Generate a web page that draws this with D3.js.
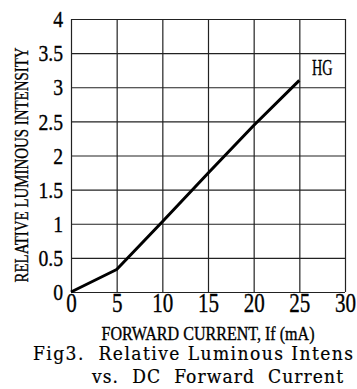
<!DOCTYPE html>
<html>
<head>
<meta charset="utf-8">
<script src="https://cdn.jsdelivr.net/npm/d3@7"></script>
<style>
  body { margin: 0; background: #fff; }
  svg { display: block; }
  text { fill: #000; stroke: #000; stroke-width: 0.35px; }
  .serif { font-family: "DejaVu Serif Condensed", "DejaVu Serif", serif; stroke-width: 0.2px; }
  .num { font-family: "Liberation Serif", serif; }
</style>
</head>
<body>
<svg id="chart" width="357" height="389"></svg>
<script>
// data
const current = [0, 5, 10, 15, 20, 25];
const intensity = [0, 0.33, 1.03, 1.74, 2.44, 3.1];
const xTicks = [0, 5, 10, 15, 20, 25, 30];
const yTicks = [0, 0.5, 1, 1.5, 2, 2.5, 3, 3.5, 4];
const seriesName = "HG";

const svg = d3.select("#chart");

const x = d3.scaleLinear().domain([0, 30]).range([71, 345]);
const y = d3.scaleLinear().domain([0, 4]).range([292, 19]);

// squeeze a text node to a fraction of its natural width
function squeeze(sel, k) {
	sel.each(function() {
		const w = this.getComputedTextLength();
		d3.select(this)
			.attr("textLength", w * k)
			.attr("lengthAdjust", "spacingAndGlyphs");
	});
}

// grid
svg.append("g")
	.attr("transform", `translate(0,${y(0)})`)
	.call(d3.axisBottom(x).tickValues(xTicks).tickSize(-(y(0) - y(4))).tickFormat(""))
	.call(g => g.select(".domain").remove())
	.call(g => g.selectAll("line").attr("stroke", "#222").attr("stroke-width", 1.2));

svg.append("g")
	.attr("transform", `translate(${x(0)},0)`)
	.call(d3.axisLeft(y).tickValues(yTicks).tickSize(-(x(30) - x(0))).tickFormat(""))
	.call(g => g.select(".domain").remove())
	.call(g => g.selectAll("line").attr("stroke", "#222").attr("stroke-width", 1.2));

// tick labels
const xAxis = svg.append("g")
	.attr("transform", `translate(0,${y(0)})`)
	.call(d3.axisBottom(x).tickValues(xTicks).tickSize(0).tickPadding(1).tickFormat(d3.format("")));
xAxis.select(".domain").remove();
xAxis.attr("font-family", null).attr("font-size", null);
xAxis.selectAll("text")
	.attr("class", "num")
	.style("font-size", "27px")
	.call(squeeze, 0.78);

const yAxis = svg.append("g")
	.attr("transform", `translate(${x(0)},0)`)
	.call(d3.axisLeft(y).tickValues(yTicks).tickSize(0).tickPadding(8).tickFormat(d3.format("")));
yAxis.select(".domain").remove();
yAxis.attr("font-family", null).attr("font-size", null);
yAxis.selectAll("text")
	.attr("class", "num")
	.style("font-size", "24px")
	.call(squeeze, 0.82);

// curve
const line = d3.line()
	.x((d, i) => x(current[i]))
	.y(d => y(d));

svg.append("path")
	.datum(intensity)
	.attr("fill", "none")
	.attr("stroke", "#000")
	.attr("stroke-width", 3)
	.attr("stroke-linejoin", "round")
	.attr("d", line);

svg.append("text")
	.attr("class", "num")
	.attr("x", 312)
	.attr("y", 75)
	.style("font-size", "23px")
	.text(seriesName)
	.call(squeeze, 0.62);

// axis titles
svg.append("text")
	.attr("class", "num")
	.attr("transform", "translate(28,165) rotate(-90)")
	.attr("text-anchor", "middle")
	.style("font-size", "19px")
	.attr("textLength", 235)
	.attr("lengthAdjust", "spacingAndGlyphs")
	.text("RELATIVE LUMINOUS INTENSITY");

svg.append("text")
	.attr("class", "num")
	.attr("x", 208)
	.attr("y", 340)
	.attr("text-anchor", "middle")
	.style("font-size", "19px")
	.attr("textLength", 213)
	.attr("lengthAdjust", "spacingAndGlyphs")
	.text("FORWARD CURRENT, If (mA)");

// caption
svg.append("text")
	.attr("class", "serif")
	.attr("x", 33)
	.attr("y", 360)
	.style("font-size", "19px")
	.attr("textLength", 320)
	.attr("lengthAdjust", "spacing")
	.attr("xml:space", "preserve")
	.text("Fig3.  Relative Luminous Intens");

svg.append("text")
	.attr("class", "serif")
	.attr("x", 92)
	.attr("y", 383)
	.style("font-size", "19px")
	.attr("textLength", 251)
	.attr("lengthAdjust", "spacing")
	.attr("xml:space", "preserve")
	.text("vs.  DC  Forward  Current");
</script>
</body>
</html>
